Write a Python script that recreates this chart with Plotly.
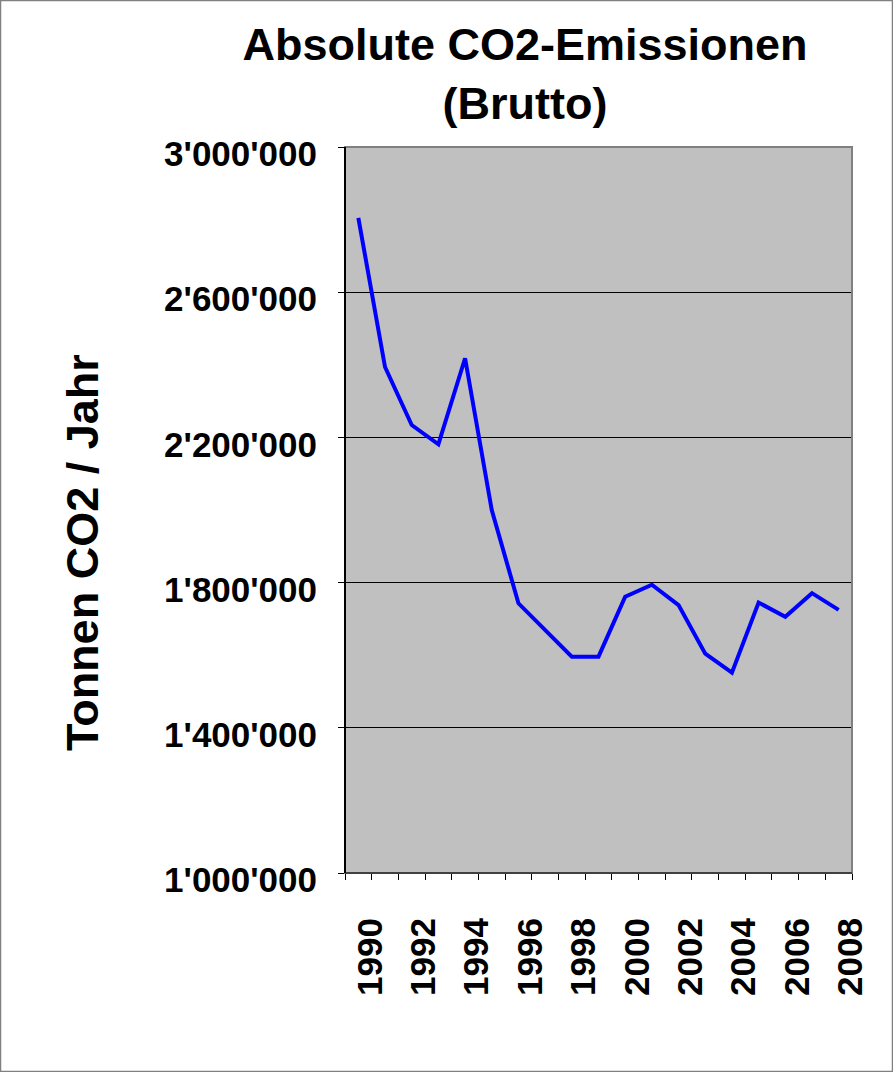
import plotly.graph_objects as go

years = [str(y) for y in range(1990, 2009)]
emissions = [2805000, 2394000, 2234000, 2181000, 2418000, 2000000, 1743000,
             1670000, 1596000, 1596000, 1761000, 1794000, 1738000, 1604000,
             1552000, 1745000, 1706000, 1771000, 1725000]
y_tickvals = [1000000, 1400000, 1800000, 2200000, 2600000, 3000000]
y_ticktext = ["1'000'000", "1'400'000", "1'800'000", "2'200'000", "2'600'000", "3'000'000"]
x_ticktext = [y if int(y) % 2 == 0 else "" for y in years]

W, H = 893, 1072
L, R, T, B = 345, 41, 147, 199
pw, ph = W - L - R, H - T - B
FONT = "Liberation Sans, Arial, sans-serif"

def px_x(x):
    return (x - L) / pw

def px_y(y):
    return (H - B - y) / ph

fig = go.Figure()
fig.add_trace(go.Scatter(x=years, y=emissions, mode="lines",
                         line=dict(color="#0000FF", width=4), showlegend=False))

fig.update_layout(
    width=W, height=H,
    margin=dict(l=L, r=R, t=T, b=B),
    paper_bgcolor="white", plot_bgcolor="#C0C0C0",
    font=dict(family=FONT, color="black"),
    title=dict(text="<b>Absolute CO2-Emissionen<br>(Brutto)</b>",
               font=dict(size=45, family=FONT, color="black"),
               x=525 / W, xref="container", xanchor="center",
               y=1 - 60 / H, yref="container", yanchor="middle"),
    xaxis=dict(type="category", tickmode="array", tickvals=years, ticktext=x_ticktext,
               range=[-0.5, len(years) - 0.5], automargin=False,
               tickson="boundaries", ticks="outside", ticklen=6, tickcolor="black",
               tickangle=-90, tickfont=dict(size=35, family=FONT, color="black", weight="bold"),
               showline=True, linecolor="black", linewidth=1, showgrid=False,
               ticklabelstandoff=30, ticklabelshift=12, zeroline=False),
    yaxis=dict(range=[1000000, 3000000], tickmode="array", tickvals=y_tickvals,
               ticktext=y_ticktext, ticks="outside", ticklen=6, tickcolor="black",
               tickfont=dict(size=35, family=FONT, color="black", weight="bold"),
               showline=True, linecolor="black", linewidth=1, automargin=False,
               showgrid=True, gridcolor="black", gridwidth=1, zeroline=False,
               ticklabelstandoff=14, ticklabelshift=7),
    annotations=[dict(text="<b>Tonnen CO2 / Jahr</b>", textangle=-90,
                      x=px_x(82), y=px_y(553), xref="paper", yref="paper",
                      showarrow=False, font=dict(size=45, family=FONT, color="black"),
                      xanchor="center", yanchor="middle")],
    shapes=[
        dict(type="rect", xref="paper", yref="paper", x0=0, x1=1, y0=0, y1=1,
             line=dict(color="#808080", width=2), layer="above"),
        dict(type="line", xref="paper", yref="paper", x0=0, x1=0, y0=0, y1=1,
             line=dict(color="black", width=2), layer="above"),
        dict(type="line", xref="paper", yref="paper", x0=0, x1=1, y0=0, y1=0,
             line=dict(color="black", width=1), layer="above"),
        dict(type="rect", xref="paper", yref="paper",
             x0=px_x(0.5), x1=px_x(W - 0.5), y0=px_y(H - 0.5), y1=px_y(0.5),
             line=dict(color="#808080", width=1.5), layer="below"),
    ],
)

fig.write_html("out.html", config={"displayModeBar": False},
               post_script="document.body.style.margin='0';")
